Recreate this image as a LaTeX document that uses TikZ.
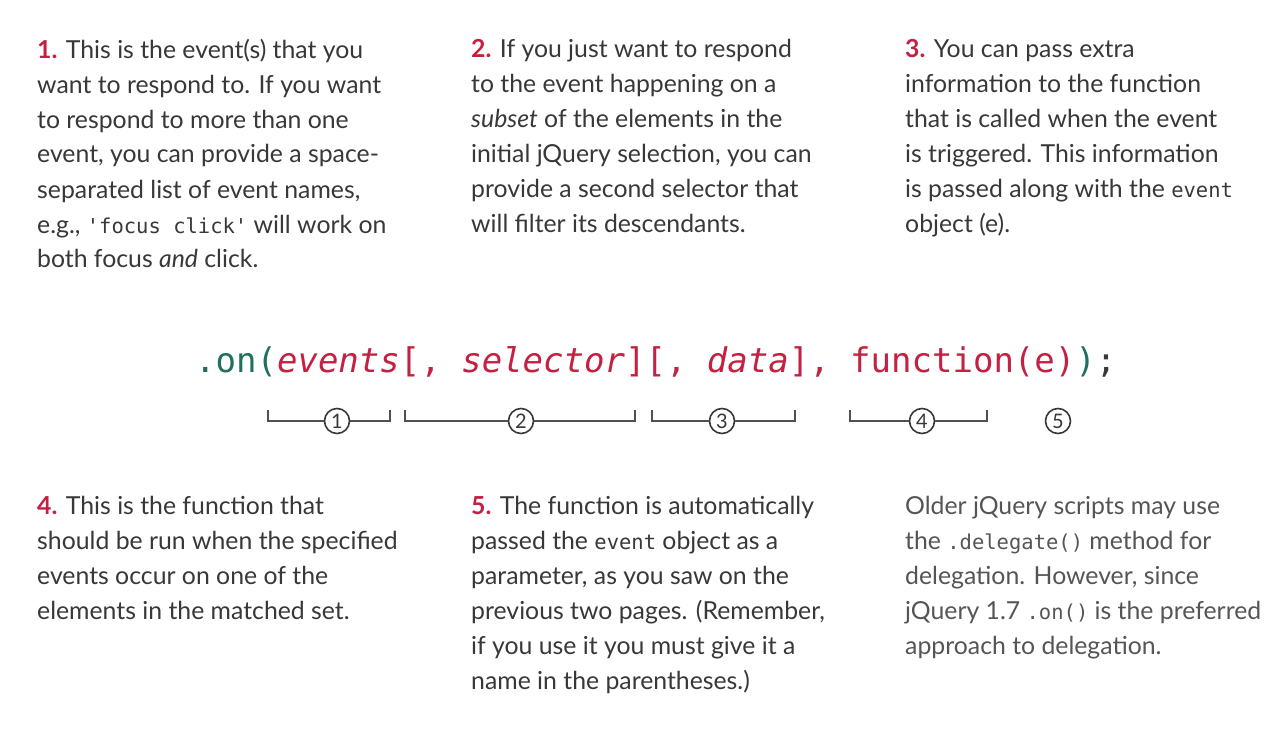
\documentclass[tikz,border=0pt]{standalone}
\usepackage{fontspec}
\setmainfont{Lato}
\setmonofont{DejaVu Sans Mono}
\definecolor{bodytext}{HTML}{383838}
\definecolor{notetext}{HTML}{555555}
\definecolor{accent}{HTML}{C42142}
\definecolor{codeteal}{HTML}{21705E}
\definecolor{rule}{HTML}{505050}
\newcommand{\num}[1]{\textcolor{accent}{\bfseries #1}}
\newcommand{\code}[1]{{\fontsize{20.5}{35}\ttfamily #1}}
\newcommand{\param}[1]{{\itshape #1}}
% paragraphs are placed by the baseline of their last line
\tikzset{
  para/.style={anchor=base west, inner sep=0pt, align=left,
    font=\fontsize{24.8}{35}\selectfont, text=bodytext},
  codeline/.style={anchor=base west, inner sep=0pt,
    font=\fontsize{34}{40}\ttfamily, text=codeteal},
  numcirc/.style={circle, draw=bodytext, line width=1.6pt, minimum size=25pt,
    inner sep=0pt, font=\fontsize{20}{20}\selectfont, text=bodytext},
  brk/.style={draw=rule, line width=1.2pt}
}
\begin{document}
\begin{tikzpicture}[x=1pt,y=-1pt]
\useasboundingbox (0,0) rectangle (1288,730);
\fill[white] (0,0) rectangle (1288,730);

% upper row of notes
\node[para] (p1) at (37,268) {\num{1.} This is the event(s) that you\\
want to respond to. If you want\\
to respond to more than one\\
event, you can provide a space-\\
separated list of event names,\\
e.g., \code{'focus click'} will work on\\
both focus \emph{and} click.};

\node[para] (p2) at (471,233) {\num{2.} If you just want to respond\\
to the event happening on a\\
\emph{subset} of the elements in the\\
initial jQuery selection, you can\\
provide a second selector that\\
will filter its descendants.};

\node[para] (p3) at (905,233) {\num{3.} You can pass extra\\
information to the function\\
that is called when the event\\
is triggered. This information\\
is passed along with the \code{event}\\
object (e).};

% the method signature
\node[codeline] (sig) at (195,372) {.on(\textcolor{accent}{\param{events}[,~\param{selector}][,~\param{data}],~function(e)})\textcolor{bodytext}{;}};

% brackets under each argument
\node[numcirc] (n1) at (337,421) {1};
\coordinate (t1a) at (268,410);
\coordinate (t1b) at (390,410);
\draw[brk] (t1a) |- (n1.west);
\draw[brk] (n1.east) -| (t1b);

\node[numcirc] (n2) at (521,421) {2};
\coordinate (t2a) at (405,410);
\coordinate (t2b) at (635,410);
\draw[brk] (t2a) |- (n2.west);
\draw[brk] (n2.east) -| (t2b);

\node[numcirc] (n3) at (722,421) {3};
\coordinate (t3a) at (652,410);
\coordinate (t3b) at (795,410);
\draw[brk] (t3a) |- (n3.west);
\draw[brk] (n3.east) -| (t3b);

\node[numcirc] (n4) at (922,421) {4};
\coordinate (t4a) at (850,410);
\coordinate (t4b) at (987,410);
\draw[brk] (t4a) |- (n4.west);
\draw[brk] (n4.east) -| (t4b);

\node[numcirc] (n5) at (1058,421) {5};

% lower row of notes
\node[para] (p4) at (37,619) {\num{4.} This is the function that\\
should be run when the specified\\
events occur on one of the\\
elements in the matched set.};

\node[para] (p5) at (471,689) {\num{5.} The function is automatically\\
passed the \code{event} object as a\\
parameter, as you saw on the\\
previous two pages. (Remember,\\
if you use it you must give it a\\
name in the parentheses.)};

\node[para, text=notetext] (p6) at (905,654) {Older jQuery scripts may use\\
the \code{.delegate()} method for\\
delegation. However, since\\
jQuery 1.7 \code{.on()} is the preferred\\
approach to delegation.};
\end{tikzpicture}
\end{document}
